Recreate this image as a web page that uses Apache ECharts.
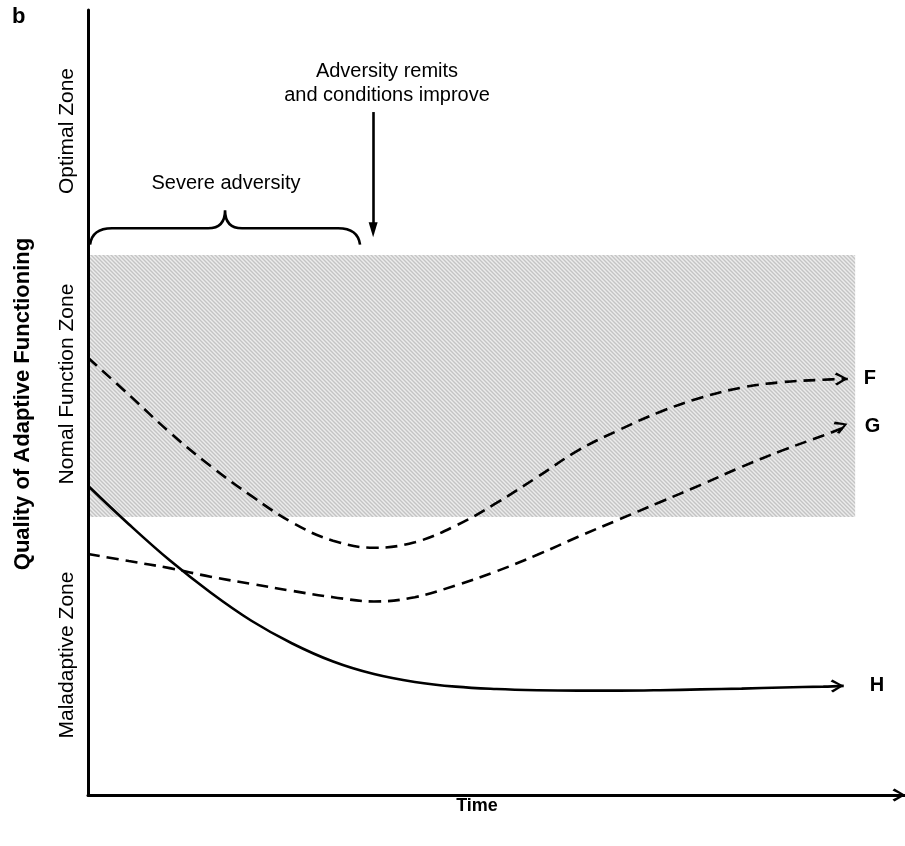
<!DOCTYPE html>
<html><head><meta charset="utf-8">
<script src="https://cdn.jsdelivr.net/npm/echarts@6/dist/echarts.min.js"></script>
<style>html,body{margin:0;padding:0;background:#fff}#c{width:905px;height:846px}</style>
</head><body><div id="c"></div>
<script>
// ---- data (x: time 0..100, y: quality 0..100) ----
const fX = [0, 5, 10, 15, 20, 25, 30, 35, 40, 45, 50, 55, 60, 65, 70, 75, 80, 85, 90, 93];
const fY = [55.7, 51.0, 46.2, 41.9, 38.1, 34.7, 32.4, 31.5, 32.2, 34.3, 37.2, 40.5, 43.9, 46.5, 48.8, 50.6, 51.9, 52.6, 52.9, 53.0];
const gX = [0, 5, 10, 15, 20, 25, 30, 35, 40, 45, 50, 55, 60, 65, 70, 75, 80, 85, 90, 93];
const gY = [30.7, 29.8, 28.9, 27.8, 26.9, 26.0, 25.2, 24.65, 25.2, 26.7, 28.5, 30.6, 32.9, 35.1, 37.3, 39.5, 41.8, 43.9, 45.8, 47.0];
const hX = [0, 5, 10, 15, 20, 25, 30, 35, 40, 45, 50, 55, 60, 65, 70, 75, 80, 85, 90, 92.5];
const hY = [39.4, 34.5, 29.9, 25.8, 22.2, 19.3, 17.0, 15.4, 14.4, 13.8, 13.5, 13.35, 13.3, 13.3, 13.35, 13.45, 13.55, 13.7, 13.8, 13.9];
const seriesNames = ['F', 'G', 'H'];
const bandX = [0, 93.9];          // normal function zone, time extent
const bandY = [35.4, 68.8];       // normal function zone, quality extent
const braceX = [0.25, 33.3];      // severe adversity period
const braceY = [70.1, 72.2, 74.5];// brace ends, brace bar, brace tip
const remitX = 34.9;              // adversity remits
const remitY = [87.0, 72.0];
const zoneLabels = ['Optimal Zone', 'Nomal Function Zone', 'Maladaptive Zone'];
const yTitle = 'Quality of Adaptive Functioning';
const xTitle = 'Time';

// ---- helpers ----
const FONT = '"Liberation Sans", Arial, sans-serif';
function hatchTile() {
  const c = document.createElement('canvas');
  c.width = 4; c.height = 4;
  const g = c.getContext('2d');
  g.fillStyle = '#ececec'; g.fillRect(0, 0, 4, 4);
  g.strokeStyle = '#c4c4c4'; g.lineWidth = 1.4;
  g.beginPath();
  g.moveTo(-1, -1); g.lineTo(5, 5);
  g.moveTo(-1, 3); g.lineTo(1, 5);
  g.moveTo(3, -1); g.lineTo(5, 1);
  g.stroke();
  return c;
}
const chevronRight = 'path://M1.8,0L12,6L1.8,12L0,10.2L8.4,6L0,1.8Z';
const chevronUp = 'path://M0,10.2L6,0L12,10.2L10.2,12L6,3.6L1.8,12Z';
const PXX = 8.17, PXY = 7.85; // approx px per data unit, used only for arrow angle

function build(xs, ys) {
  const n = xs.length;
  const ang = Math.atan2((ys[n-1] - ys[n-2]) * PXY, (xs[n-1] - xs[n-2]) * PXX) * 180 / Math.PI;
  return xs.map((x, i) => i === n - 1
    ? { value: [x, ys[i]], symbol: chevronRight, symbolSize: 13, symbolRotate: ang, symbolOffset: [-6.5, 0] }
    : [x, ys[i]]);
}

function lineSeries(name, xs, ys, dashed, labelDist, z) {
  return {
    type: 'line', name, z, smooth: 0.4, symbol: 'none', showSymbol: true,
    data: build(xs, ys), silent: true, animation: false,
    lineStyle: { color: '#000', width: 2.6, type: dashed ? [12, 7] : 'solid', cap: 'butt' },
    itemStyle: { color: '#000', borderWidth: 0 },
    endLabel: { show: true, formatter: name, distance: labelDist, color: '#000',
      fontFamily: FONT, fontWeight: 'bold', fontSize: 20 },
    emphasis: { disabled: true }
  };
}

const chart = echarts.init(document.getElementById('c'), null, { renderer: 'canvas' });
const tile = hatchTile();

const option = {
  animation: false,
  grid: { left: 88, right: 0, top: 10, bottom: 51 },
  xAxis: {
    type: 'value', min: 0, max: 100, z: 10,
    axisLine: { show: true, lineStyle: { color: '#000', width: 3 },
      symbol: ['none', chevronUp], symbolSize: [13, 13], symbolOffset: [0, -6] },
    axisTick: { show: false }, axisLabel: { show: false }, splitLine: { show: false }
  },
  yAxis: {
    type: 'value', min: 0, max: 100, z: 10,
    axisLine: { show: true, lineStyle: { color: '#000', width: 3 } },
    axisTick: { show: false }, axisLabel: { show: false }, splitLine: { show: false }
  },
  series: [
    {
      type: 'custom', z: 1, silent: true, animation: false,
      data: [[bandX[0], bandY[0], bandX[1], bandY[1]]],
      encode: { x: [0, 2], y: [1, 3] },
      renderItem(params, api) {
        const p0 = api.coord([api.value(0), api.value(3)]);
        const p1 = api.coord([api.value(2), api.value(1)]);
        return { type: 'rect', shape: { x: p0[0], y: p0[1], width: p1[0] - p0[0], height: p1[1] - p0[1] },
          style: { fill: { image: tile, repeat: 'repeat' } } };
      }
    },
    {
      type: 'custom', z: 3, silent: true, animation: false,
      data: [[braceX[0], braceY[0], braceX[1], braceY[2]]],
      encode: { x: [0, 2], y: [1, 3] },
      renderItem(params, api) {
        const xm = (braceX[0] + braceX[1]) / 2;
        const S = api.coord([braceX[0], braceY[0]]);
        const E = api.coord([braceX[1], braceY[0]]);
        const T = api.coord([xm, braceY[2]]);
        const hy = api.coord([xm, braceY[1]])[1];
        const d = [
          'M', S[0], S[1],
          'Q', S[0] + 2, hy, S[0] + 22, hy,
          'L', T[0] - 17, hy,
          'Q', T[0], hy, T[0], T[1],
          'Q', T[0], hy, T[0] + 17, hy,
          'L', E[0] - 22, hy,
          'Q', E[0] - 2, hy, E[0], E[1]
        ].join(' ');
        return { type: 'path', shape: { pathData: d },
          style: { fill: null, stroke: '#000', lineWidth: 2.6 } };
      }
    },
    lineSeries(seriesNames[0], fX, fY, true, 16, 4),
    lineSeries(seriesNames[1], gX, gY, true, 17, 4),
    Object.assign(lineSeries(seriesNames[2], hX, hY, false, 26, 5), {
      markLine: {
        silent: true, animation: false, symbol: ['none', 'triangle'], symbolSize: [9, 15],
        label: { show: false },
        lineStyle: { color: '#000', width: 2.6, type: 'solid' },
        data: [[{ coord: [remitX, remitY[0]] }, { coord: [remitX, remitY[1]] }]]
      }
    })
  ],
  graphic: [
    { type: 'text', left: 12, top: 6, style: { text: 'b', font: 'bold 22px ' + FONT, fill: '#000' } },
    { type: 'text', x: 23, y: 404, rotation: Math.PI / 2,
      style: { text: yTitle, font: 'bold 22px ' + FONT, fill: '#000', align: 'center', verticalAlign: 'middle' } },
    { type: 'text', x: 67, y: 131, rotation: Math.PI / 2,
      style: { text: zoneLabels[0], font: '21px ' + FONT, fill: '#000', align: 'center', verticalAlign: 'middle' } },
    { type: 'text', x: 67, y: 384, rotation: Math.PI / 2,
      style: { text: zoneLabels[1], font: '21px ' + FONT, fill: '#000', align: 'center', verticalAlign: 'middle' } },
    { type: 'text', x: 67, y: 655, rotation: Math.PI / 2,
      style: { text: zoneLabels[2], font: '21px ' + FONT, fill: '#000', align: 'center', verticalAlign: 'middle' } },
    { type: 'text', x: 226, y: 183,
      style: { text: 'Severe adversity', font: '20px ' + FONT, fill: '#000', align: 'center', verticalAlign: 'middle' } },
    { type: 'text', x: 387, y: 71,
      style: { text: 'Adversity remits', font: '20px ' + FONT, fill: '#000', align: 'center', verticalAlign: 'middle' } },
    { type: 'text', x: 387, y: 95,
      style: { text: 'and conditions improve', font: '20px ' + FONT, fill: '#000', align: 'center', verticalAlign: 'middle' } },
    { type: 'text', x: 477, y: 806,
      style: { text: xTitle, font: 'bold 18px ' + FONT, fill: '#000', align: 'center', verticalAlign: 'middle' } }
  ]
};
chart.setOption(option);
</script>
</body></html>
